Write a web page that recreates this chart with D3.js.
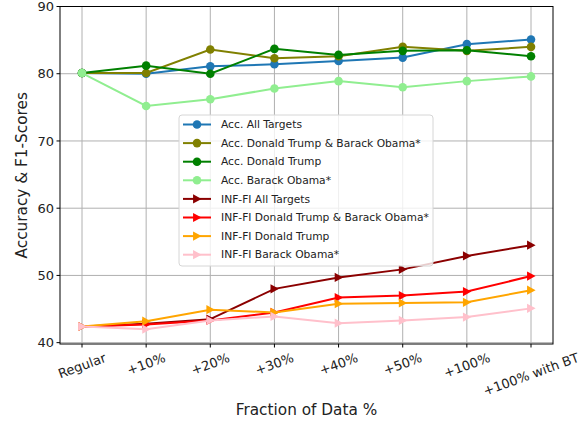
<!DOCTYPE html>
<html>
<head>
<meta charset="utf-8">
<script src="https://cdn.jsdelivr.net/npm/d3@7"></script>
<style>
  body { margin: 0; background: #fff; }
  svg { font-family: "DejaVu Sans", sans-serif; }
</style>
</head>
<body>
<svg id="chart" width="585" height="425"></svg>
<script>
const categories = ['Regular', '+10%', '+20%', '+30%', '+40%', '+50%', '+100%', '+100% with BT'];
const yTicks = [40, 50, 60, 70, 80, 90];

const accAll = [80.1, 80.0, 81.1, 81.4, 81.9, 82.4, 84.4, 85.1];
const accTrumpObama = [80.1, 80.1, 83.6, 82.3, 82.6, 84.0, 83.4, 84.0];
const accTrump = [80.1, 81.2, 80.0, 83.7, 82.8, 83.4, 83.5, 82.6];
const accObama = [80.1, 75.2, 76.2, 77.8, 78.9, 78.0, 78.9, 79.6];
const infAll = [42.4, 42.8, 43.5, 48.0, 49.7, 50.9, 52.9, 54.5];
const infTrumpObama = [42.4, 42.7, 43.3, 44.5, 46.7, 47.0, 47.6, 49.9];
const infTrump = [42.4, 43.2, 44.9, 44.5, 45.8, 45.9, 46.0, 47.8];
const infObama = [42.4, 42.0, 43.3, 43.9, 42.9, 43.3, 43.8, 45.1];

const series = [
  { name: 'Acc. All Targets', values: accAll, color: '#1f77b4', marker: 'o' },
  { name: 'Acc. Donald Trump & Barack Obama*', values: accTrumpObama, color: '#808000', marker: 'o' },
  { name: 'Acc. Donald Trump', values: accTrump, color: '#008000', marker: 'o' },
  { name: 'Acc. Barack Obama*', values: accObama, color: '#90ee90', marker: 'o' },
  { name: 'INF-FI All Targets', values: infAll, color: '#8b0000', marker: '>' },
  { name: 'INF-FI Donald Trump & Barack Obama*', values: infTrumpObama, color: '#ff0000', marker: '>' },
  { name: 'INF-FI Donald Trump', values: infTrump, color: '#ffa500', marker: '>' },
  { name: 'INF-FI Barack Obama*', values: infObama, color: '#ffc0cb', marker: '>' },
];

const svg = d3.select('#chart');
const plotLeft = 60, plotRight = 553, plotTop = 6.5, plotBottom = 344;

const x = d3.scalePoint().domain(categories).range([82, 531]);
const y = d3.scaleLinear().domain([39.8, 90]).range([plotBottom, plotTop]);

// grid
const grid = svg.append('g').attr('stroke', '#b0b0b0').attr('stroke-width', 1);
categories.forEach((c) => {
  grid.append('line').attr('x1', x(c)).attr('x2', x(c)).attr('y1', plotTop).attr('y2', plotBottom);
});
yTicks.forEach((t) => {
  grid.append('line').attr('x1', plotLeft).attr('x2', plotRight).attr('y1', y(t)).attr('y2', y(t));
});

// lines + markers
const line = d3.line().x((d, i) => x(categories[i])).y((d) => y(d));
const triangle = (r) => `M${-r * 0.85},${-r}L${r},0L${-r * 0.85},${r}Z`;

series.forEach((s) => {
  const g = svg.append('g');
  g.append('path')
    .attr('d', line(s.values))
    .attr('fill', 'none')
    .attr('stroke', s.color)
    .attr('stroke-width', 2);
  s.values.forEach((v, i) => {
    if (s.marker === 'o') {
      g.append('circle').attr('cx', x(categories[i])).attr('cy', y(v)).attr('r', 4.3).attr('fill', s.color);
    } else {
      g.append('path')
        .attr('d', triangle(4.6))
        .attr('transform', `translate(${x(categories[i])},${y(v)})`)
        .attr('fill', s.color);
    }
  });
});

// frame
svg.append('rect')
  .attr('x', plotLeft).attr('y', plotTop)
  .attr('width', plotRight - plotLeft).attr('height', plotBottom - plotTop)
  .attr('fill', 'none').attr('stroke', '#000').attr('stroke-width', 1);

// y axis ticks
yTicks.forEach((t) => {
  svg.append('line').attr('x1', plotLeft - 3.5).attr('x2', plotLeft).attr('y1', y(t)).attr('y2', y(t)).attr('stroke', '#000');
  svg.append('text')
    .attr('x', plotLeft - 6).attr('y', y(t)).attr('dy', '0.35em')
    .attr('text-anchor', 'end').attr('font-size', 13).attr('fill', '#222')
    .text(t);
});

// x axis ticks, rotated labels
const rot = 20 * Math.PI / 180;
categories.forEach((c) => {
  svg.append('line').attr('x1', x(c)).attr('x2', x(c)).attr('y1', plotBottom).attr('y2', plotBottom + 3.5).attr('stroke', '#000');
  const t = svg.append('text')
    .attr('text-anchor', 'middle').attr('dy', '0.35em')
    .attr('font-size', 13).attr('fill', '#222')
    .text(c);
  const w = t.node().getComputedTextLength();
  const h = w * Math.sin(rot) + 15 * Math.cos(rot);
  const cy = plotBottom + 6 + h / 2;
  t.attr('transform', `translate(${x(c)},${cy}) rotate(-20)`);
});

// axis labels
svg.append('text')
  .attr('x', (plotLeft + plotRight) / 2).attr('y', 415)
  .attr('text-anchor', 'middle').attr('font-size', 15.3).attr('fill', '#222')
  .text('Fraction of Data %');
svg.append('text')
  .attr('transform', `translate(27,${(plotTop + plotBottom) / 2}) rotate(-90)`)
  .attr('text-anchor', 'middle').attr('font-size', 15.3).attr('fill', '#222')
  .text('Accuracy & F1-Scores');

// legend
const lg = svg.append('g').attr('transform', 'translate(179,115)');
lg.append('rect')
  .attr('width', 254).attr('height', 151).attr('rx', 3)
  .attr('fill', '#fff').attr('fill-opacity', 0.8)
  .attr('stroke', '#d6d6d6');
series.forEach((s, i) => {
  const yy = 9.5 + i * 18.6;
  lg.append('line').attr('x1', 4).attr('x2', 32).attr('y1', yy).attr('y2', yy)
    .attr('stroke', s.color).attr('stroke-width', 2);
  if (s.marker === 'o') {
    lg.append('circle').attr('cx', 18).attr('cy', yy).attr('r', 4.3).attr('fill', s.color);
  } else {
    lg.append('path').attr('d', triangle(4.6)).attr('transform', `translate(18,${yy})`).attr('fill', s.color);
  }
  lg.append('text')
    .attr('x', 42).attr('y', yy).attr('dy', '0.35em')
    .attr('font-size', 10.7).attr('fill', '#222')
    .text(s.name);
});
</script>
</body>
</html>
